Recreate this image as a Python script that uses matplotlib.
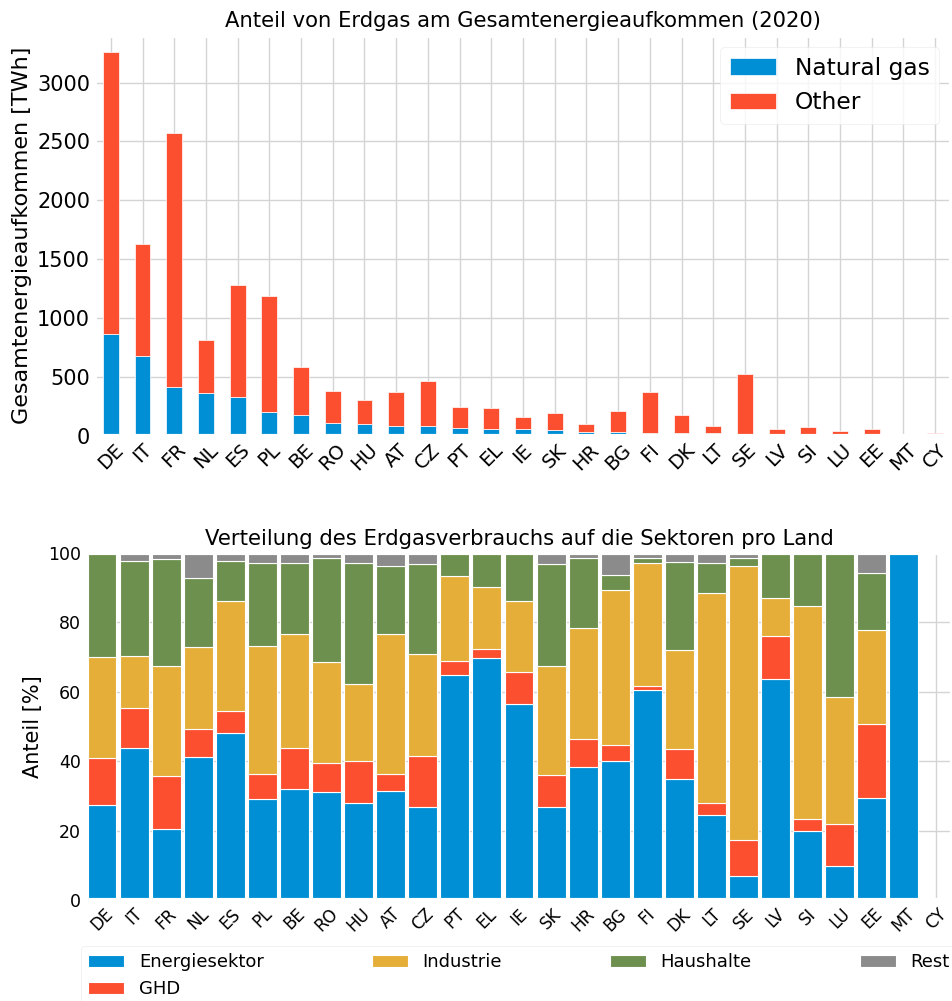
import matplotlib
matplotlib.use("Agg")
import matplotlib.pyplot as plt
import numpy as np

plt.style.use("fivethirtyeight")

# Laender (Reihenfolge wie im Bild)
countries = ["DE", "IT", "FR", "NL", "ES", "PL", "BE", "RO", "HU", "AT", "CZ", "PT", "EL",
             "IE", "SK", "HR", "BG", "FI", "DK", "LT", "SE", "LV", "SI", "LU", "EE", "MT", "CY"]

# Gesamtenergieaufkommen 2020 [TWh]
total = [3258, 1628, 2571, 811, 1280, 1190, 582, 375, 304, 369, 466, 245, 233,
         154, 191, 95, 208, 369, 178, 85, 521, 52, 69, 38, 52, 14, 20]
natural_gas = [867, 678, 409, 364, 327, 202, 174, 109, 98, 83, 83, 64, 55,
               52, 47, 30, 27, 20, 20, 20, 10, 12, 9, 8, 4, 4, 0]
other = [t - g for t, g in zip(total, natural_gas)]

# Anteile am Erdgasverbrauch [%]
energiesektor = [27.5, 43.8, 20.4, 41.1, 48.2, 29.0, 32.1, 31.2, 27.9, 31.3, 26.7, 64.9, 69.7,
                 56.5, 26.7, 38.3, 40.0, 60.4, 35.0, 24.4, 7.0, 63.8, 19.9, 9.7, 29.4, 100, 0]
ghd = [13.3, 11.6, 15.2, 8.1, 6.4, 7.2, 11.7, 8.4, 12.1, 4.9, 14.7, 4.1, 2.7,
       9.1, 9.3, 8.0, 4.6, 1.4, 8.5, 3.5, 10.4, 12.3, 3.4, 12.3, 21.4, 0, 0]
industrie = [29.1, 14.9, 31.7, 23.6, 31.6, 36.9, 33.0, 29.1, 22.2, 40.6, 29.5, 24.3, 17.8,
             20.5, 31.3, 32.1, 44.7, 35.3, 28.6, 60.5, 78.9, 10.8, 61.4, 36.5, 27.1, 0, 0]
haushalte = [30.1, 27.4, 31.0, 20.1, 11.6, 24.0, 20.3, 29.8, 34.8, 19.5, 25.8, 6.7, 9.8,
             13.9, 29.5, 20.1, 4.4, 1.4, 25.2, 8.7, 2.2, 13.1, 15.3, 41.5, 16.2, 0, 0]
rest = [0, 2.3, 1.7, 7.1, 2.2, 2.9, 2.9, 1.5, 3.0, 3.7, 3.3, 0, 0,
        0, 3.2, 1.5, 6.3, 1.5, 2.7, 2.9, 1.5, 0, 0, 0, 5.9, 0, 0]

colors = ["#008fd5", "#fc4f30", "#e5ae38", "#6d904f", "#8b8b8b"]

plt.rcParams["figure.facecolor"] = "white"
plt.rcParams["axes.facecolor"] = "white"
plt.rcParams["savefig.facecolor"] = "white"
plt.rcParams["axes.edgecolor"] = "white"
plt.rcParams["grid.color"] = "#d4d4d4"

fig = plt.figure(figsize=(9.53, 10.01), dpi=100)
x = np.arange(len(countries))

# oberes Diagramm
ax1 = fig.add_axes([95 / 953, 1 - 435.5 / 1001, 856 / 953, 400 / 1001])
ax1.bar(x, natural_gas, width=0.5, color=colors[0], edgecolor="white", linewidth=0.5,
        label="Natural gas")
ax1.bar(x, other, bottom=natural_gas, width=0.5, color=colors[1], edgecolor="white",
        linewidth=0.5, label="Other")
ax1.set_xlim(-0.5, len(countries) - 0.5)
ax1.set_ylim(0, 3400)
ax1.set_xticks(x)
ax1.set_xticklabels(countries, rotation=45, fontsize=14)
ax1.tick_params(axis="y", labelsize=15)
ax1.set_ylabel("Gesamtenergieaufkommen [TWh]", fontsize=16)
ax1.set_title("Anteil von Erdgas am Gesamtenergieaufkommen (2020)", fontsize=15.2)
ax1.legend(loc="upper right", fontsize=16.8, facecolor="white", edgecolor="#e8e8e8")

# unteres Diagramm
ax2 = fig.add_axes([86 / 953, 1 - 900 / 1001, 866 / 953, 347 / 1001])
series = [energiesektor, ghd, industrie, haushalte, rest]
labels = ["Energiesektor", "GHD", "Industrie", "Haushalte", "Rest"]
bottom = np.zeros(len(countries))
for vals, lab, col in zip(series, labels, colors):
    ax2.bar(x, vals, bottom=bottom, width=0.9, color=col, edgecolor="white",
            linewidth=0.8, label=lab)
    bottom = bottom + np.array(vals)
ax2.set_xlim(-0.5, len(countries) - 0.5)
ax2.set_ylim(0, 100)
ax2.set_xticks(x)
ax2.set_xticklabels(countries, rotation=45, fontsize=12)
ax2.tick_params(axis="y", labelsize=12.5)
ax2.set_ylabel("Anteil [%]", fontsize=15)
ax2.set_title("Verteilung des Erdgasverbrauchs auf die Sektoren pro Land", fontsize=15.2)

handles, labs = ax2.get_legend_handles_labels()
fig.legend(handles, labs, loc="upper left", ncol=4, mode="expand",
           bbox_to_anchor=(81 / 953, 1 - 946 / 1001, 876 / 953, 0),
           fontsize=13, facecolor="white", edgecolor="#e8e8e8", borderaxespad=0)

fig.savefig("out.png", dpi=100)
